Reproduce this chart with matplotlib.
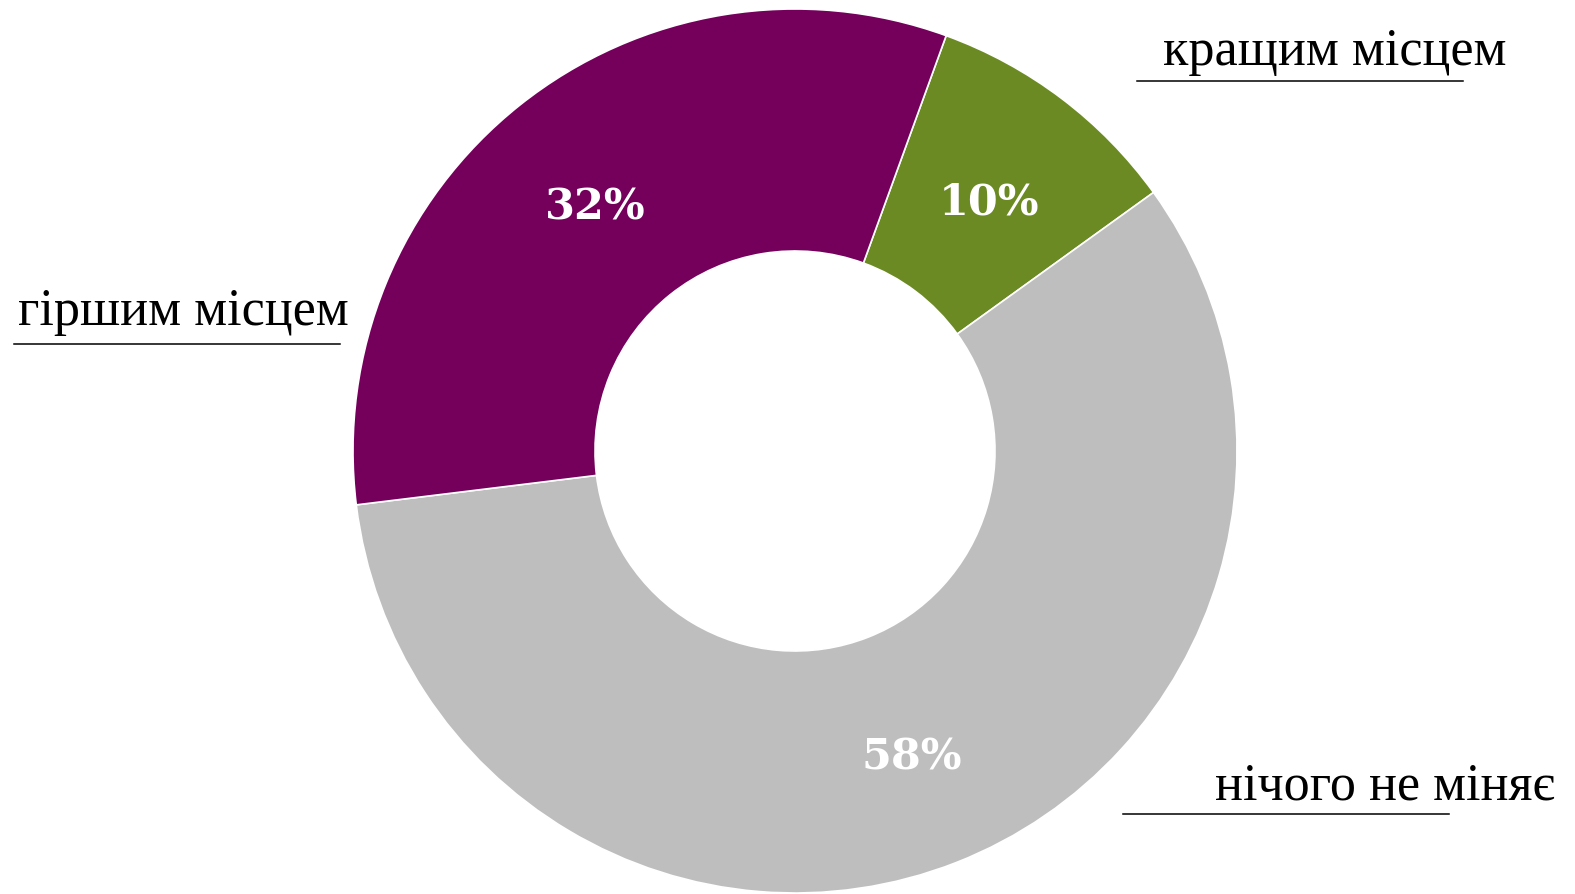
import matplotlib
matplotlib.use("Agg")
import matplotlib.pyplot as plt
from matplotlib.lines import Line2D
import numpy as np

categories = ["кращим місцем", "нічого не міняє", "гіршим місцем"]
values = [9.5, 58.0, 32.5]
pct_labels = ["10%", "58%", "32%"]
colors = ["#6B8A23", "#BEBEBE", "#74005C"]

W, H = 1575, 895
fig = plt.figure(figsize=(W / 100, H / 100), dpi=100)
cx, cy, R = 795, 452, 442
ax = fig.add_axes([(cx - R) / W, (H - cy - R) / H, 2 * R / W, 2 * R / H])
ax.set_aspect("equal")
ax.axis("off")

inner = 200 / 442
wedges, texts = ax.pie(
    values, colors=colors, startangle=70, counterclock=False, radius=1,
    wedgeprops=dict(width=1 - inner, edgecolor="white", linewidth=1.2),
)
ax.set_xlim(-1, 1)
ax.set_ylim(-1, 1)

mid_r = (1 + inner) / 2
for w, lab in zip(wedges, pct_labels):
    ang = np.deg2rad((w.theta1 + w.theta2) / 2)
    ax.text(mid_r * np.cos(ang), mid_r * np.sin(ang) - 0.015, lab, ha="center", va="center",
            color="white", fontsize=31, fontweight="bold", family="DejaVu Serif")

# outer labels with underline (pixel positions)
label_pos = [(1163, 65, 1137, 1463, 82), (1215, 800, 1123, 1449, 815), (18, 325, 14, 340, 345)]
for name, (tx, ty, lx0, lx1, ly) in zip(categories, label_pos):
    fig.text(tx / W, 1 - ty / H, name, ha="left", va="baseline",
             fontsize=37.5, family="Liberation Serif", color="black")
    fig.add_artist(Line2D([lx0 / W, lx1 / W], [1 - ly / H, 1 - ly / H],
                          transform=fig.transFigure, color="black", linewidth=1.1))

fig.savefig("out.png", dpi=100)
